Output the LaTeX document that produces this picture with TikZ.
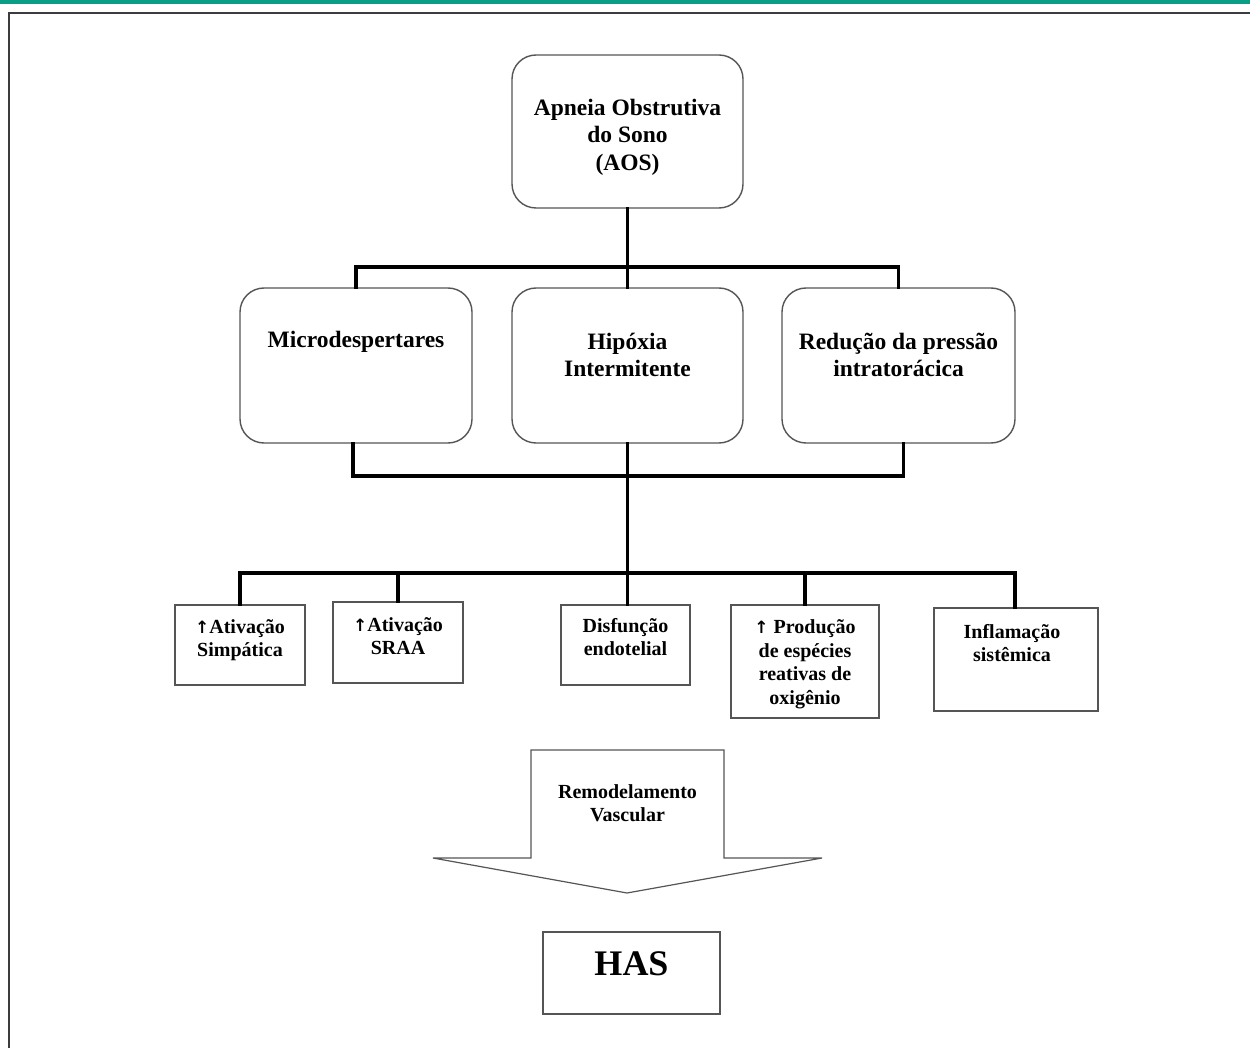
\documentclass[tikz,border=0pt]{standalone}
\usepackage{fontspec}
\setmainfont{Liberation Serif}
\newfontfamily\arrowfont{DejaVu Sans}
\newcommand{\uparr}{{\arrowfont\bfseries\fontsize{17}{20}\selectfont ↑}}
\definecolor{barteal}{HTML}{0B9E87}
\definecolor{framegray}{HTML}{3C3C3C}
\definecolor{boxgray}{HTML}{555555}
\begin{document}
\begin{tikzpicture}[x=1pt,y=-1pt,
  rbox/.style={draw=boxgray,line width=1.4pt,rounded corners=24pt,fill=white,inner sep=0pt},
  sbox/.style={draw=boxgray,line width=1.4pt,fill=white,inner sep=0pt},
  bigtxt/.style={font=\fontsize{23.5}{27.5}\selectfont\bfseries,align=center,inner sep=0pt},
  smalltxt/.style={font=\fontsize{20}{23.5}\selectfont\bfseries,align=center,inner sep=0pt},
  conn/.style={line width=3.6pt,black,line cap=rect}]
\useasboundingbox (0,0) rectangle (1250,1048);
\fill[barteal] (0,0) rectangle (1250,4.5);
\draw[framegray,line width=2.4pt] (9,1048) -- (9,13) -- (1250,13);

% top node
\node[rbox,minimum width=231pt,minimum height=153pt] (aos) at (627.5,131.5) {};
\node[bigtxt] (aost) at (627.5,137) {Apneia Obstrutiva\\do Sono\\(AOS)};

% middle nodes
\node[rbox,minimum width=232pt,minimum height=155pt] (micro) at (356,365.5) {};
\node[rbox,minimum width=231pt,minimum height=155pt] (hip) at (627.5,365.5) {};
\node[rbox,minimum width=233pt,minimum height=155pt] (red) at (898.5,365.5) {};
\node[bigtxt] (microt) at (356,342) {Microdespertares};
\node[bigtxt] (hipt) at (627.5,355) {Hipóxia\\Intermitente};
\node[bigtxt] (redt) at (898.5,355) {Redução da pressão\\intratorácica};

% bottom nodes
\node[sbox,minimum width=130pt,minimum height=80pt] (simp) at (240,645) {};
\node[sbox,minimum width=130pt,minimum height=81pt] (sraa) at (398,642.5) {};
\node[sbox,minimum width=129pt,minimum height=80pt] (disf) at (625.5,645) {};
\node[sbox,minimum width=148pt,minimum height=113pt] (prod) at (805,661.5) {};
\node[sbox,minimum width=164pt,minimum height=103pt] (infl) at (1016,659.5) {};
\node[smalltxt] (simpt) at (240,640) {\uparr Ativação\\Simpática};
\node[smalltxt] (sraat) at (398,636) {\uparr Ativação\\SRAA};
\node[smalltxt] (disft) at (625.5,637) {Disfunção\\endotelial};
\node[smalltxt] (prodt) at (805,664) {\uparr\ Produção\\de espécies\\reativas de\\oxigênio};
\node[smalltxt] (inflt) at (1012,643) {Inflamação\\sistêmica};

% connectors top
\coordinate (j1) at (627.5,267);
\draw[conn] (aos.south) -- (j1);
\draw[conn] (micro.north) -- (micro.north |- j1) -- (red.north |- j1) -- (red.north);
\draw[conn] (j1) -- (hip.north);

% lower bracket
\coordinate (j2) at (627.5,476);
\draw[conn] ([xshift=-3pt]micro.south) -- ([xshift=-3pt]micro.south |- j2) -- ([xshift=5pt]red.south |- j2) -- ([xshift=5pt]red.south);
\coordinate (j3) at (627.5,573);
\draw[conn] (hip.south) -- (j3);
\draw[conn] (simp.north) -- (simp.north |- j3) -- ([xshift=-1pt]infl.north |- j3) -- ([xshift=-1pt]infl.north);
\draw[conn] (sraa.north |- j3) -- (sraa.north);
\draw[conn] (j3) -- ([xshift=2pt]disf.north);
\draw[conn] (prod.north |- j3) -- (prod.north);

% big arrow
\draw[boxgray,line width=1.2pt,fill=white] (531,750) -- (724,750) -- (724,858) -- (822,858) -- (627,893) -- (433,858) -- (531,858) -- cycle;
\node[smalltxt] (remt) at (627.5,803) {Remodelamento\\Vascular};

% HAS
\node[sbox,minimum width=177pt,minimum height=82pt] (has) at (631.5,973) {};
\node[font=\fontsize{36}{40}\selectfont\bfseries,inner sep=0pt] (hast) at (631.5,964) {HAS};
\end{tikzpicture}
\end{document}
